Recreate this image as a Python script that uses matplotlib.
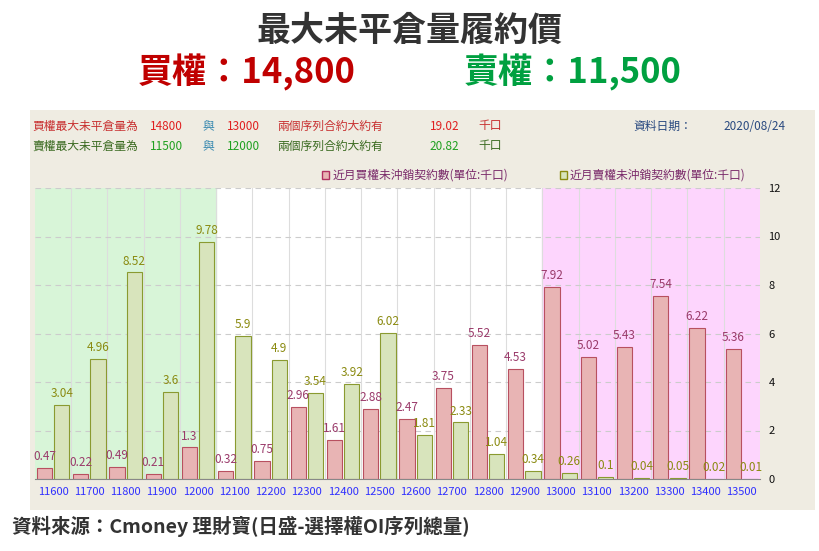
import matplotlib
matplotlib.use("Agg")
import matplotlib.pyplot as plt
from matplotlib import font_manager as fm
import numpy as np
import glob, os

strikes = ["11600","11700","11800","11900","12000","12100","12200","12300","12400","12500",
           "12600","12700","12800","12900","13000","13100","13200","13300","13400","13500"]
call_oi = [0.47,0.22,0.49,0.21,1.3,0.32,0.75,2.96,1.61,2.88,2.47,3.75,5.52,4.53,7.92,5.02,5.43,7.54,6.22,5.36]
put_oi = [3.04,4.96,8.52,3.6,9.78,5.9,4.9,3.54,3.92,6.02,1.81,2.33,1.04,0.34,0.26,0.1,0.04,0.05,0.02,0.01]
call_lbl = ["0.47","0.22","0.49","0.21","1.3","0.32","0.75","2.96","1.61","2.88","2.47","3.75","5.52","4.53","7.92","5.02","5.43","7.54","6.22","5.36"]
put_lbl = ["3.04","4.96","8.52","3.6","9.78","5.9","4.9","3.54","3.92","6.02","1.81","2.33","1.04","0.34","0.26","0.1","0.04","0.05","0.02","0.01"]
yticks = [0,2,4,6,8,10,12]

files = sorted(set(glob.glob("/usr/share/fonts/**/*CJK*", recursive=True)))
def pick(keys, avoid=()):
    for k in keys:
        for f in files:
            b = os.path.basename(f)
            if all(s in b for s in k) and not any(a in b for a in avoid):
                return f
    return None
reg = pick([("TC", "Regular"), ("SC", "Regular"), ("JP", "Regular"), ("Regular",), ("CJK",)], avoid=("Mono", "Serif"))
bold = pick([("TC", "Bold"), ("SC", "Bold"), ("JP", "Bold"), ("Bold",)], avoid=("Mono", "Serif"))
if reg is None:
    files2 = glob.glob("/usr/share/fonts/**/NotoSansTC*", recursive=True) + glob.glob("/usr/share/fonts/**/NotoSansSC*", recursive=True)
    reg = files2[0] if files2 else None
if bold is None:
    bold = reg
if reg:
    fm.fontManager.addfont(reg)
    P = dict(fname=reg)
    B = dict(fname=bold)
    plt.rcParams["font.family"] = [fm.FontProperties(fname=reg).get_name(), "DejaVu Sans"]
else:
    P = dict(family="DejaVu Sans"); B = dict(family="DejaVu Sans", weight="bold")

def FP(size, bold_=False):
    d = B if bold_ else P
    return fm.FontProperties(size=size, **d)

fig = plt.figure(figsize=(8.2,5.51), dpi=100)
fig.patch.set_facecolor("white")
bg = fig.add_axes([30/820, 1-510/551, 785/820, 400/551], zorder=-5)
bg.set_facecolor("#efece2"); bg.set_xticks([]); bg.set_yticks([])
for s in bg.spines.values(): s.set_visible(False)

fig.text(0.5, 1-30/551, "最大未平倉量履約價", ha="center", va="center", fontproperties=FP(24.5, True), color="#333333")
fig.text(0.301, 1-72/551, "買權：14,800", ha="center", va="center", fontproperties=FP(25, True), color="#c00000")
fig.text(0.698, 1-72/551, "賣權：11,500", ha="center", va="center", fontproperties=FP(25, True), color="#00a040")

y1, y2 = 1-126/551, 1-146/551
fs = 8.5
def t(xx, yy, s, c):
    fig.text(xx, yy, s, color=c, fontproperties=FP(fs), va="center")
t(0.04, y1, "買權最大未平倉量為", "#c83030")
t(0.183, y1, "14800", "#e02020")
t(0.247, y1, "與", "#3a8ab0")
t(0.277, y1, "13000", "#e02020")
t(0.338, y1, "兩個序列合約大約有", "#c83030")
t(0.524, y1, "19.02", "#e02020")
t(0.583, y1, "千口", "#c83030")
t(0.772, y1, "資料日期：", "#2a4a80")
t(0.882, y1, "2020/08/24", "#2a4a80")
t(0.04, y2, "賣權最大未平倉量為", "#3a6a20")
t(0.183, y2, "11500", "#20a020")
t(0.247, y2, "與", "#3a8ab0")
t(0.277, y2, "12000", "#20a020")
t(0.338, y2, "兩個序列合約大約有", "#3a6a20")
t(0.524, y2, "20.82", "#20a020")
t(0.583, y2, "千口", "#3a6a20")

fig.text(0.015, 1-526/551, "資料來源：Cmoney 理財寶(日盛-選擇權OI序列總量)", fontproperties=FP(14, True),
         color="#333333", va="center")

ax = fig.add_axes([35/820, 72/551, 725/820, 291/551])
n = len(strikes)
x = np.arange(n)
ax.set_xlim(-0.5, n-0.5)
ax.set_ylim(0, 12)
ax.set_facecolor("white")
ax.axvspan(-0.5, 4.5, color="#d8f5d8", zorder=0)
ax.axvspan(13.5, n-0.5, color="#fdd5fd", zorder=0)
for b in np.arange(0.5, n-0.5, 1):
    ax.axvline(b, color="#dddddd", lw=0.8, zorder=0.5)
for tt in yticks[1:]:
    ax.axhline(tt, color="#cccccc", lw=0.8, ls=(0,(5,4)), zorder=0.5)

w = 0.42
ax.bar(x-0.24, call_oi, w, color="#e8b4b4", edgecolor="#b85060", lw=0.8, zorder=2)
ax.bar(x+0.24, put_oi, w, color="#d8e4bc", edgecolor="#8a9a30", lw=0.8, zorder=2)
for i in range(n):
    ax.text(x[i]-0.24, call_oi[i]+0.2, call_lbl[i], ha="center", va="bottom", fontproperties=FP(8.5), color="#9a3a6a", zorder=3)
    ax.text(x[i]+0.24, put_oi[i]+0.2, put_lbl[i], ha="center", va="bottom", fontproperties=FP(8.5), color="#8a8a10", zorder=3)

ax.set_xticks(x)
ax.set_xticklabels(strikes, color="#3030ff")
for lab in ax.get_xticklabels():
    lab.set_fontproperties(FP(8))
ax.yaxis.tick_right()
ax.set_yticks(yticks)
ax.set_yticklabels([str(v) for v in yticks], color="#111111")
for lab in ax.get_yticklabels():
    lab.set_fontproperties(FP(8))
ax.tick_params(length=0, pad=6)
for s in ax.spines.values():
    s.set_visible(False)
ax.spines["bottom"].set_visible(True)
ax.spines["bottom"].set_color("#888888")

ly = 1-175/551
fig.patches.append(plt.Rectangle((0.393, ly-0.007), 0.008, 0.014, transform=fig.transFigure,
                                 facecolor="#e8b4b4", edgecolor="#b03060", lw=1))
fig.text(0.405, ly, "近月買權未沖銷契約數(單位:千口)", fontproperties=FP(8.5), color="#7a2a6a", va="center")
fig.patches.append(plt.Rectangle((0.683, ly-0.007), 0.008, 0.014, transform=fig.transFigure,
                                 facecolor="#d8e4bc", edgecolor="#8a8a10", lw=1))
fig.text(0.695, ly, "近月賣權未沖銷契約數(單位:千口)", fontproperties=FP(8.5), color="#7a2a6a", va="center")

fig.savefig("out.png", dpi=100)
